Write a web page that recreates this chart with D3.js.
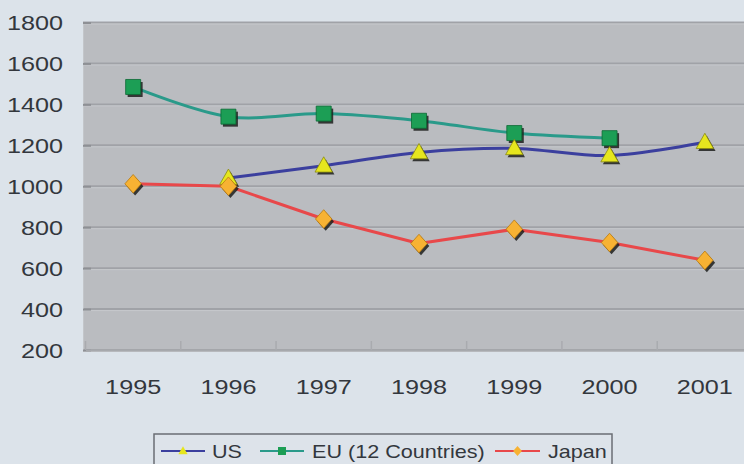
<!DOCTYPE html>
<html>
<head>
<meta charset="utf-8">
<script src="https://cdn.jsdelivr.net/npm/d3@7"></script>
<style>
  html, body { margin: 0; padding: 0; background: #dce3ea; }
  svg { display: block; }
  text { font-family: "Liberation Sans", Arial, sans-serif; fill: #33373d; }
</style>
</head>
<body>
<svg id="chart" width="744" height="464"></svg>
<script>
// Yearly values per region
const years = ["1995", "1996", "1997", "1998", "1999", "2000", "2001"];
const usValues = [null, 1040, 1100, 1165, 1185, 1150, 1215];
const euValues = [1485, 1340, 1355, 1320, 1260, 1235, null];
const japanValues = [1012, 1000, 840, 720, 790, 725, 638];
const yTicks = [200, 400, 600, 800, 1000, 1200, 1400, 1600, 1800];
const seriesNames = ["US", "EU (12 Countries)", "Japan"];

const W = 744, H = 464;
const svg = d3.select("#chart");

const x = d3.scaleBand().domain(years).range([85.5, 752.5]).paddingInner(0).paddingOuter(0);
const y = d3.scaleLinear().domain([200, 1800]).range([350, 22.5]);
const cx = d => x(d) + x.bandwidth() / 2;

// page background
svg.append("rect").attr("width", W).attr("height", H).attr("fill", "#dce3ea");

// plot area
svg.append("rect")
  .attr("x", 83).attr("y", y(1800))
  .attr("width", 752 - 83).attr("height", y(200) - y(1800))
  .attr("fill", "#babcc0");

// horizontal gridlines
const grid = svg.append("g");
yTicks.forEach(t => {
  grid.append("line")
    .attr("x1", 83).attr("x2", 752)
    .attr("y1", y(t)).attr("y2", y(t))
    .attr("stroke", "#a0a2a7").attr("stroke-width", 2);
  grid.append("line")
    .attr("x1", 83).attr("x2", 752)
    .attr("y1", y(t) + 1.5).attr("y2", y(t) + 1.5)
    .attr("stroke", "#c6c8cc").attr("stroke-width", 1);
});

// axes via d3 generators, styled after
const yAxis = svg.append("g").attr("transform", "translate(83,0)")
  .call(d3.axisRight(y).tickValues(yTicks).tickSize(8).tickFormat(""));
yAxis.select(".domain").attr("stroke", "#c3c6ca").attr("stroke-width", 1);
yAxis.selectAll(".tick line").attr("stroke", "#8e9095").attr("stroke-width", 2);

const xAxis = svg.append("g").attr("transform", "translate(0,350)")
  .call(d3.axisTop(x).tickSize(0).tickFormat(""));
xAxis.select(".domain").attr("stroke", "#a7a9ad").attr("stroke-width", 2);
// category boundary ticks
const boundaries = years.map(d => x(d));
xAxis.selectAll("line.bt").data(boundaries).enter().append("line")
  .attr("class", "bt")
  .attr("x1", d => d).attr("x2", d => d)
  .attr("y1", 0).attr("y2", -9)
  .attr("stroke", "#a9abaf").attr("stroke-width", 1.5);

// y tick labels (slightly widened text)
svg.append("g").selectAll("text").data(yTicks).enter().append("text")
  .attr("transform", d => `translate(63,${y(d) + 7.5}) scale(1.2,1)`)
  .attr("text-anchor", "end")
  .style("font-size", "21px")
  .text(d => d);

// x tick labels
svg.append("g").selectAll("text").data(years).enter().append("text")
  .attr("transform", d => `translate(${cx(d)},${394}) scale(1.2,1)`)
  .attr("text-anchor", "middle")
  .style("font-size", "21px")
  .text(d => d);

// series
const series = [
  { name: seriesNames[0], values: usValues, line: "#3b3f9e", marker: "triangle", fill: "#e6e61e", stroke: "#8a8a10", curve: d3.curveCatmullRom.alpha(0.5) },
  { name: seriesNames[1], values: euValues, line: "#2a9a8a", marker: "square", fill: "#1c9e55", stroke: "#0d6a35", curve: d3.curveCatmullRom.alpha(0.5) },
  { name: seriesNames[2], values: japanValues, line: "#e8484a", marker: "diamond", fill: "#f7b233", stroke: "#b87a10", curve: d3.curveLinear }
];

const symbolPath = (type, size) => {
  const s = size;
  if (type === "square") return `M${-s/2},${-s/2}H${s/2}V${s/2}H${-s/2}Z`;
  if (type === "triangle") return `M0,${-s*0.6}L${s*0.58},${s*0.42}H${-s*0.58}Z`;
  return `M0,${-s*0.62}L${s*0.55},0L0,${s*0.62}L${-s*0.55},0Z`;
};

// draw lines first (EU, US, Japan order so markers sit on top)
[series[1], series[0], series[2]].forEach(s => {
  const pts = years.map((yr, i) => ({ year: yr, v: s.values[i] }));
  const lineGen = d3.line()
    .defined(d => d.v != null)
    .x(d => cx(d.year))
    .y(d => y(d.v))
    .curve(s.curve);
  svg.append("path")
    .datum(pts)
    .attr("d", lineGen)
    .attr("fill", "none")
    .attr("stroke", s.line)
    .attr("stroke-width", 3)
    .attr("stroke-linejoin", "round");
});

[series[1], series[0], series[2]].forEach(s => {
  const pts = years.map((yr, i) => ({ year: yr, v: s.values[i] })).filter(d => d.v != null);
  const g = svg.append("g");
  // drop shadow
  g.selectAll("path.sh").data(pts).enter().append("path")
    .attr("class", "sh")
    .attr("transform", d => `translate(${cx(d.year) + 2},${y(d.v) + 2.5})`)
    .attr("d", symbolPath(s.marker, 15))
    .attr("fill", "#1d1f1c").attr("opacity", 0.85);
  g.selectAll("path.mk").data(pts).enter().append("path")
    .attr("class", "mk")
    .attr("transform", d => `translate(${cx(d.year)},${y(d.v)})`)
    .attr("d", symbolPath(s.marker, 15))
    .attr("fill", s.fill)
    .attr("stroke", s.stroke).attr("stroke-width", 0.8);
});

// legend
const legend = svg.append("g");
legend.append("rect")
  .attr("x", 154).attr("y", 434)
  .attr("width", 458).attr("height", 40)
  .attr("fill", "#dde3ea")
  .attr("stroke", "#6a6e74").attr("stroke-width", 1.5);

const legendItems = [
  { s: series[0], x0: 161, x1: 205, tx: 212 },
  { s: series[1], x0: 260, x1: 304, tx: 312 },
  { s: series[2], x0: 495, x1: 540, tx: 548 }
];
legendItems.forEach(it => {
  const ly = 451;
  legend.append("line")
    .attr("x1", it.x0).attr("x2", it.x1)
    .attr("y1", ly).attr("y2", ly)
    .attr("stroke", it.s.line).attr("stroke-width", 2);
  legend.append("path")
    .attr("transform", `translate(${(it.x0 + it.x1) / 2},${ly})`)
    .attr("d", symbolPath(it.s.marker, 8))
    .attr("fill", it.s.fill);
  legend.append("text")
    .attr("transform", `translate(${it.tx},${ly + 6.5}) scale(1.2,1)`)
    .style("font-size", "18px")
    .text(it.s.name);
});
</script>
</body>
</html>
